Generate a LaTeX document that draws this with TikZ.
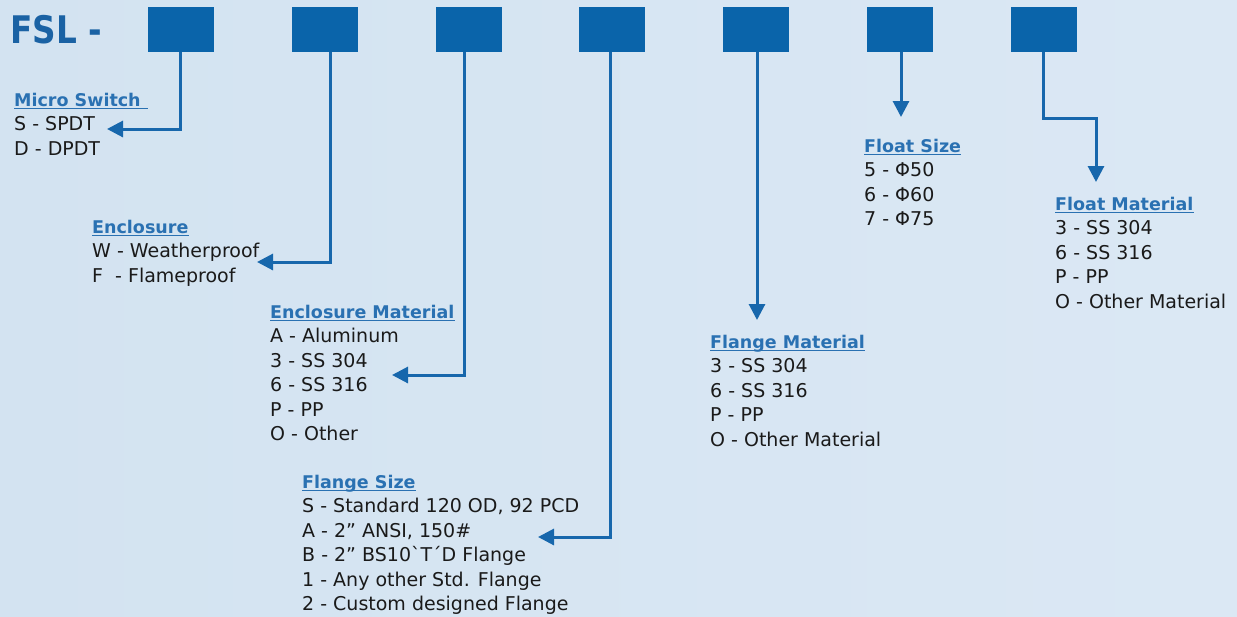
\documentclass[tikz,border=0pt]{standalone}
\usepackage{fontspec}
\usepackage{graphicx}
\setmainfont{DejaVu Sans}[Ligatures=TeXOff]
\usetikzlibrary{arrows.meta}
\definecolor{bgl}{HTML}{D3E3F1}
\definecolor{bgr}{HTML}{DBE8F4}
\definecolor{boxc}{HTML}{0A64AA}
\definecolor{arrc}{HTML}{1767AC}
\definecolor{hdrc}{HTML}{2A71B2}
\definecolor{fslc}{HTML}{1A62A4}
\definecolor{txt}{HTML}{1A1A1A}
\tikzset{
  codebox/.style={fill=boxc, draw=none, minimum width=66pt, minimum height=45pt, inner sep=0pt},
  arr/.style={draw=arrc, line width=3pt, -{Triangle[length=16pt,width=16pt]}},
  item/.style={anchor=base west, inner sep=0pt, text=txt, font=\fontsize{19}{22}\selectfont},
  hdr/.style={anchor=base west, inner sep=0pt, text=hdrc, font=\fontsize{17.5}{22}\selectfont\bfseries},
  uline/.style={draw=hdrc, line width=1.3pt},
}
\newcommand\optgroup[6]{%
  \node[hdr] (#1h) at (#2,#3) {#4};
  \draw[uline] ([yshift=-2.6pt]#1h.base west) -- ([xshift=#5pt,yshift=-2.6pt]#1h.base east);
  \foreach \t [count=\i] in {#6} \node[item] (#1\i) at (#2,{#3+24.5*\i}) {\t};
}
\begin{document}
\begin{tikzpicture}[x=1pt,y=-1pt]
\shade[left color=bgl, right color=bgr] (0,0) rectangle (1237,616);
\useasboundingbox (0,0) rectangle (1237,616);
% title
\node[anchor=base west, inner sep=0pt, text=fslc, font=\fontsize{38}{40}\selectfont\bfseries] (fsl) at (10,43) {\scalebox{0.86}[1]{FSL -}};
% code boxes
\foreach \cx [count=\k] in {181,325,469,612,756,900,1044}
  \node[codebox] (b\k) at (\cx,29.5) {};
% arrow tips
\coordinate (t1) at (107,129);
\coordinate (t2) at (257,262);
\coordinate (t3) at (392,375);
\coordinate (t4) at (538,537);
\coordinate (t5) at (757,320);
\coordinate (t6) at (901,117);
\coordinate (t7) at (1096,182);
\coordinate (k7) at (1043,118);
% connectors
\draw[arr] ([xshift=-1pt]b1.south) |- (t1);
\draw[arr] ([xshift=5pt]b2.south) |- (t2);
\draw[arr] ([xshift=-5pt]b3.south) |- (t3);
\draw[arr] ([xshift=-2pt]b4.south) |- (t4);
\draw[arr] ([xshift=1pt]b5.south) -- (t5);
\draw[arr] ([xshift=1pt]b6.south) -- (t6);
\draw[arr] ([xshift=-1pt]b7.south) -- (k7) -| (t7);
% option lists
\optgroup{ms}{14}{106}{Micro Switch}{7}{S - SPDT, D - DPDT}
\optgroup{en}{92}{233}{Enclosure}{0}{W - Weatherproof, F\ \ - Flameproof}
\optgroup{em}{270}{318}{Enclosure Material}{0}{A - Aluminum, 3 - SS 304, 6 - SS 316, P - PP, O - Other}
\optgroup{fs}{302}{488}{Flange Size}{0}{{S - Standard 120 OD, 92 PCD}, {A - 2” ANSI, 150\#}, B - 2” BS10`T´D Flange, 1 - Any other Std. Flange, 2 - Custom designed Flange}
\optgroup{fm}{710}{348}{Flange Material}{0}{3 - SS 304, 6 - SS 316, P - PP, O - Other Material}
\optgroup{fz}{864}{152}{Float Size}{0}{5 - Φ50, 6 - Φ60, 7 - Φ75}
\optgroup{ft}{1055}{210}{Float Material}{0}{3 - SS 304, 6 - SS 316, P - PP, O - Other Material}
\end{tikzpicture}
\end{document}
